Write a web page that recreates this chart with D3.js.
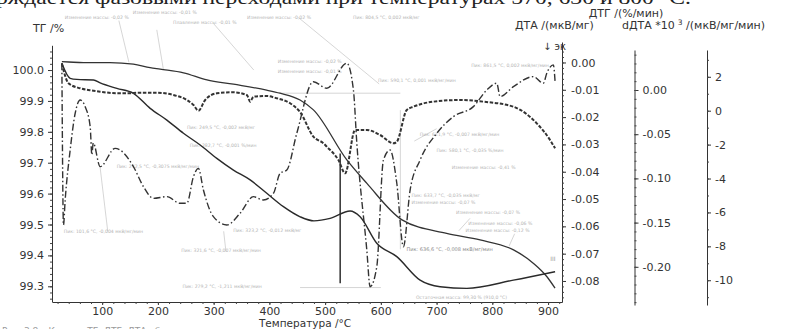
<!DOCTYPE html>
<html>
<head>
<meta charset="utf-8">
<script src="https://cdn.jsdelivr.net/npm/d3@7"></script>
<style>
  html, body { margin: 0; padding: 0; background: #fff; }
  svg { display: block; }
  .ax text { font-family: "DejaVu Sans", sans-serif; font-size: 11px; fill: #333; }
  .ax path, .ax line { stroke: #333; stroke-width: 1; }
  .minor path { display: none; }
  .minor line { stroke: #444; }
</style>
</head>
<body>
<svg id="chart" width="792" height="329"></svg>
<script>
// ---- Thermal analysis data: temperature (°C) vs signal ----
const tgCurve = [
  [27.7,100.027],[40,100.026],[66.5,100.024],[96.4,100.024],[114,100.024],[156,100.019],
  [186,100.008],[204,100.003],[246,99.991],[288,99.968],[335.5,99.954],[395,99.935],
  [419,99.925],[455,99.903],[479,99.871],[539,99.709],[575,99.633],[638,99.515],
  [718,99.471],[778,99.45],[838,99.418],[874,99.374],[898,99.331],[912.5,99.294]
];
const dtaCurve = [
  [27.7,-0.0003],[42.6,-0.0058],[54.6,-0.0062],[84.4,-0.0064],[96.4,-0.0075],[126.4,-0.0095],
  [156.1,-0.0113],[186.1,-0.0168],[216.1,-0.0211],[245.8,-0.0259],[275.8,-0.0302],
  [305.7,-0.0351],[335.5,-0.0394],[365.5,-0.0430],[395.4,-0.0479],[425.2,-0.0528],
  [455.2,-0.0565],[480,-0.0580],[509,-0.0571],[544.8,-0.0544],[562.8,-0.0565],
  [592.7,-0.0662],[628.6,-0.0711],[670.4,-0.0797],[706.3,-0.0821],[754.2,-0.0827],
  [837.8,-0.0797],[912.6,-0.0766]
];
const dtgCurve = [
  [27.7,0.030],[39.6,0.0076],[60.5,0.0019],[84.4,-0.0008],[96.4,-0.0019],[126.4,-0.0037],
  [144.3,-0.0037],[168.2,-0.0031],[198.1,-0.0031],[227.9,-0.0057],[251.9,-0.0113],
  [263.8,-0.0170],[272.7,-0.0234],[284.8,-0.0113],[305.7,-0.0037],[335.5,-0.0026],
  [359.6,-0.0057],[365.5,-0.0132],[371.4,-0.0076],[395.4,-0.0068],[413.4,-0.0094],
  [437.2,-0.0150],[455.2,-0.0250],[479,-0.0528],[497,-0.0603],[503,-0.0641],
  [523.9,-0.0792],[535.9,-0.0942],[553.8,-0.0452],[574.8,-0.0452],[598.6,-0.0509],
  [622.5,-0.0603],[628.6,-0.0585],[646.5,-0.0226],[658.4,-0.0189],[694.3,-0.0132],
  [742.2,-0.0113],[784,-0.0132],[837.8,-0.0189],[879.7,-0.0377],[903.6,-0.0566],[912.6,-0.0660]
];
const ddtaCurve = [
  [27.7,2.80],[30.6,-6.74],[33.6,-5.28],[42.6,-2.32],[51.6,-0.15],[60.5,0.63],[69.5,0.24],
  [78.5,-0.94],[81.5,-2.6],[84,-1.9],[96.4,-3.30],[123.3,-2.22],[132.3,-2.32],[156.1,-3.30],
  [174.1,-4.48],[192,-5.17],[216.1,-5.07],[239.9,-5.46],[251.9,-5.46],[263.8,-3.89],
  [272.7,-3.40],[281.7,-4.68],[299.6,-6.25],[323.7,-6.74],[347.5,-6.05],[371.4,-5.07],
  [389.3,-5.27],[407.3,-4.87],[419.3,-3.69],[431.3,-3.50],[449.2,-1.33],[479,1.71],
  [503,1.32],[538.9,2.80],[550.8,1.22],[556.9,-1.92],[574.8,-8.22],[580.7,-10.38],
  [592.7,-9.20],[604.6,-2.91],[616.6,-2.32],[628.6,-4.28],[640.4,-8.02],[652.5,-4.68],
  [670.4,-2.91],[700.4,-1.33],[730.1,-0.35],[766,0.24],[790.1,1.22],[808,1.62],
  [813.9,0.83],[837.8,1.42],[873.7,2.01],[891.6,1.62],[897.7,2.21],[909.5,2.70],[912.6,1.71]
];

// ---- Tick labels ----
const tempTicks = [100,200,300,400,500,600,700,800,900];
const tgTicks   = [99.3,99.4,99.5,99.6,99.7,99.8,99.9,100.0];
const dtaTicks  = [0,-0.01,-0.02,-0.03,-0.04,-0.05,-0.06,-0.07,-0.08];
const dtgTicks  = [0,-0.05,-0.10,-0.15,-0.20];
const ddtaTicks = [2,0,-2,-4,-6,-8,-10];

// Vertical step marker (°C) and its TG range
const stepMarker = { t: 527, from: 99.73, to: 99.31 };

// Peak / mass-change notes: [text, °C, TG-% level]
const notes = [
  ["Изменение массы: -0,02 %", 33, 100.165],
  ["Изменение массы: -0,01 %", 155, 100.181],
  ["Плавление массы: -0,01 %", 227, 100.149],
  ["Изменение массы: -0,02 %", 360, 100.165],
  ["Пик: 804,5 °С, 0,002 мкВ/мг", 550, 100.165],
  ["Изменение массы: -0,02 %", 415, 100.024],
  ["Изменение массы: -0,01 %", 415, 99.990],
  ["Пик: 249,5 °С, -0,002 мкВ/мг", 252, 99.810],
  ["Пик: 282,7 °С, -0,001 %/мин", 257, 99.750],
  ["Пик: 272,5 °С, -0,3075 мкВ/мг/мин", 126, 99.683],
  ["Пик: 101,6 °С, -0,004 мкВ/мг/мин", 31, 99.474],
  ["Пик: 323,2 °С, -0,012 мкВ/мг", 335, 99.476],
  ["Пик: 321,6 °С, -0,007 мкВ/мг/мин", 242, 99.412],
  ["Пик: 279,2 °С, -1,211 мкВ/мг/мин", 244, 99.295],
  ["Пик: 861,5 °С, 0,002 мкВ/мг/мин", 762, 100.010],
  ["Пик: 590,1 °С, 0,001 мкВ/мг/мин", 595, 99.960],
  ["Пик: 611,9 °С, -0,007 мкВ/мг/мин", 670, 99.786],
  ["Пик: 580,1 °С, -0,035 %/мин", 700, 99.735],
  ["Изменение массы: -0,41 %", 727, 99.680],
  ["Пик: 633,7 °С, -0,035 мкВ/мг", 655, 99.590],
  ["Изменение массы: -0,07 %", 655, 99.565],
  ["Изменение массы: -0,07 %", 735, 99.533],
  ["Изменение массы: -0,06 %", 757, 99.500],
  ["Изменение массы: -0,12 %", 752, 99.475],
  ["Остаточная масса: 99,30 % (910,0 °С)", 663, 99.258]
];
const darkNotes = [
  ["Пик: 636,6 °С, -0,008 мкВ/мг/мин", 646, 99.414]
];
// Leader lines: [°C1, TG1, °C2, TG2]
const leaders = [
  [96, 99.690, 110, 99.478],
  [318, 99.478, 322, 99.413],
  [130, 100.160, 148, 100.025],
  [198, 100.130, 210, 100.000],
  [300, 100.150, 372, 100.000],
  [452, 100.170, 597, 99.955],
  [418, 99.925, 635, 99.925],
  [635, 99.870, 635, 99.420],
  [455, 99.296, 600, 99.296],
  [700, 99.810, 660, 99.770],
  [760, 99.520, 740, 99.480],
  [840, 99.470, 830, 99.430]
];

// ---- Layout ----
const svg = d3.select("#chart");
const x = d3.scaleLinear().domain([10, 925]).range([52, 562]);
const yTG = d3.scaleLinear().domain([99.25, 100.08]).range([301.75, 45.3]);
const yDTA = d3.scaleLinear().domain([-0.0877, 0.0075]).range([302, 42]);
const yDTG = d3.scaleLinear().domain([-0.2432, 0.04525]).range([305, 50]);
const yDDTA = d3.scaleLinear().domain([-11.46, 3.58]).range([305, 50]);

// Document line cut at the top edge
svg.append("text")
  .attr("x", -4).attr("y", 4)
  .attr("font-family", "'Liberation Serif', serif")
  .attr("font-size", 19).attr("fill", "#222")
  .attr("textLength", 695).attr("lengthAdjust", "spacingAndGlyphs")
  .text("рждается фазовыми переходами при температурах 570, 630 и 800 °С.");

// Caption line cut at the bottom edge
svg.append("text")
  .attr("x", 2).attr("y", 334)
  .attr("font-family", "'DejaVu Sans', sans-serif")
  .attr("font-size", 9).attr("fill", "#9a9a9a")
  .text("Рис. 3.8 – Кривые ТГ, ДТГ, ДТА образца");

// ---- Annotations (faint) ----
const ann = svg.append("g");
ann.selectAll("line.leader").data(leaders).join("line")
  .attr("x1", d => x(d[0])).attr("y1", d => yTG(d[1]))
  .attr("x2", d => x(d[2])).attr("y2", d => yTG(d[3]))
  .attr("stroke", "#c4c4c4").attr("stroke-width", 0.7);
ann.selectAll("text.note").data(notes).join("text")
  .attr("x", d => x(d[1])).attr("y", d => yTG(d[2]))
  .attr("font-family", "'DejaVu Sans', sans-serif")
  .attr("font-size", 4.6).attr("fill", "#b4b4b4")
  .text(d => d[0]);
ann.selectAll("text.dnote").data(darkNotes).join("text")
  .attr("x", d => x(d[1])).attr("y", d => yTG(d[2]))
  .attr("font-family", "'DejaVu Sans', sans-serif")
  .attr("font-size", 5).attr("fill", "#8a8a8a")
  .text(d => d[0]);

// Step marker
svg.append("line")
  .attr("x1", x(stepMarker.t)).attr("x2", x(stepMarker.t))
  .attr("y1", yTG(stepMarker.from)).attr("y2", yTG(stepMarker.to))
  .attr("stroke", "#222").attr("stroke-width", 1.4);

// ---- Axes ----
function minor(g) { g.attr("class", "ax minor"); g.selectAll("text").remove(); }

svg.append("g").attr("class", "ax").attr("transform", "translate(0,302)")
  .call(d3.axisBottom(x).tickValues(tempTicks).tickSize(3).tickSizeOuter(0).tickPadding(2).tickFormat(d3.format("d")));
svg.append("g").attr("transform", "translate(0,302)")
  .call(d3.axisBottom(x).tickValues(d3.range(20, 925, 20)).tickSize(2).tickFormat(""))
  .call(minor);

svg.append("g").attr("class", "ax").attr("transform", "translate(52,0)")
  .call(d3.axisLeft(yTG).tickValues(tgTicks).tickSize(4).tickSizeOuter(0).tickPadding(4).tickFormat(d => d.toFixed(1)));
svg.append("g").attr("transform", "translate(52,0)")
  .call(d3.axisLeft(yTG).tickValues(d3.range(99.26, 100.07, 0.02)).tickSize(2).tickFormat(""))
  .call(minor);

svg.append("g").attr("class", "ax").attr("transform", "translate(562,0)")
  .call(d3.axisRight(yDTA).tickValues(dtaTicks).tickSize(4).tickSizeOuter(0).tickPadding(5).tickFormat(d => d.toFixed(2)));
svg.append("g").attr("transform", "translate(562,0)")
  .call(d3.axisRight(yDTA).tickValues(d3.range(-0.086, 0.007, 0.002)).tickSize(2).tickFormat(""))
  .call(minor);

svg.append("g").attr("class", "ax").attr("transform", "translate(634.5,0)")
  .call(d3.axisRight(yDTG).tickValues(dtgTicks).tickSize(4).tickSizeOuter(0).tickPadding(4).tickFormat(d => d.toFixed(2)));
svg.append("g").attr("transform", "translate(634.5,0)")
  .call(d3.axisRight(yDTG).tickValues(d3.range(-0.24, 0.045, 0.01)).tickSize(2).tickFormat(""))
  .call(minor);

svg.append("g").attr("class", "ax").attr("transform", "translate(707,0)")
  .call(d3.axisRight(yDDTA).tickValues(ddtaTicks).tickSize(4).tickSizeOuter(0).tickPadding(4).tickFormat(d => String(d)));
svg.append("g").attr("transform", "translate(707,0)")
  .call(d3.axisRight(yDDTA).tickValues(d3.range(-11, 4, 1)).tickSize(2).tickFormat(""))
  .call(minor);

// ---- Axis titles ----
const title = (t, xx, yy, anchor) => svg.append("text")
  .attr("x", xx).attr("y", yy).attr("text-anchor", anchor || "start")
  .attr("font-family", "'DejaVu Sans', sans-serif").attr("font-size", 11).attr("fill", "#333")
  .text(t);
title("ТГ /%", 33, 32);
title("ДТГ /(%/мин)", 626, 17, "middle");
title("ДТА /(мкВ/мг)", 515, 29);
const dd = title("dДТА *10", 622, 29);
dd.append("tspan").attr("dx", 3).attr("dy", -4).attr("font-size", 7.5).text("3");
dd.append("tspan").attr("dy", 4).text(" /(мкВ/мг/мин)");
title("↓ эк", 566, 50, "end").attr("font-size", 10);
title("Температура /°C", 305, 326.5, "middle").attr("font-size", 10.5);

// ---- Curves ----
const line = yScale => d3.line().x(d => x(d[0])).y(d => yScale(d[1])).curve(d3.curveMonotoneX);
const curves = svg.append("g").attr("fill", "none").attr("stroke-linejoin", "round");
curves.append("path").attr("d", line(yTG)(tgCurve))
  .attr("stroke", "#333").attr("stroke-width", 1.3);
curves.append("path").attr("d", line(yDTA)(dtaCurve))
  .attr("stroke", "#2a2a2a").attr("stroke-width", 1.4);
curves.append("path").attr("d", line(yDTG)(dtgCurve))
  .attr("stroke", "#333").attr("stroke-width", 2).attr("stroke-dasharray", "3.5,1.6");
curves.append("path").attr("d", line(yDDTA)(ddtaCurve))
  .attr("stroke", "#333").attr("stroke-width", 1.4).attr("stroke-dasharray", "7,2.5,1.5,2.5");

// Curve-end tags
svg.append("text").attr("x", x(904)).attr("y", yDTA(-0.0727))
  .attr("font-family", "'DejaVu Sans', sans-serif").attr("font-size", 6).attr("fill", "#999").text("III");
</script>
</body>
</html>
